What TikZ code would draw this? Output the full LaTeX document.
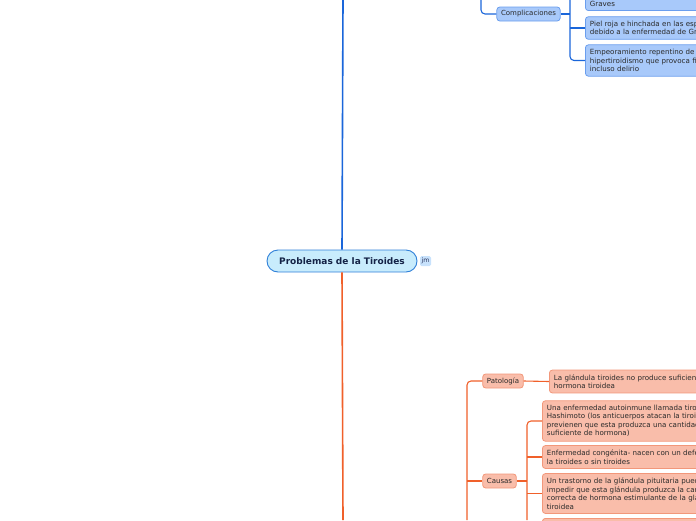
\documentclass[tikz,border=0pt]{standalone}
\usepackage{fontspec}
\setmainfont{DejaVu Sans}
\definecolor{bline}{HTML}{1A66DA}
\definecolor{oline}{HTML}{F0602A}
\definecolor{bfill}{HTML}{A8C9FA}
\definecolor{bdraw}{HTML}{6A9EEE}
\definecolor{ofill}{HTML}{F9BDAA}
\definecolor{odraw}{HTML}{F2977A}
\definecolor{cfill}{HTML}{C8ECFC}
\definecolor{cdraw}{HTML}{2F80D8}
\definecolor{txt}{HTML}{2A2A2A}
\begin{document}
\begin{tikzpicture}[x=1pt,y=-1pt,
  small/.style={font=\fontsize{7.1}{8.5}\selectfont, text=txt},
  tagfont/.style={font=\fontsize{7}{8}\selectfont, text=txt},
  bluebox/.style={small, fill=bfill, draw=bdraw, line width=0.8pt, rounded corners=3pt, align=left, text width=200pt, inner xsep=4.5pt, inner ysep=4.3pt, anchor=west},
  orangebox/.style={small, fill=ofill, draw=odraw, line width=0.8pt, rounded corners=3pt, align=left, text width=200pt, inner xsep=4.5pt, inner ysep=4.3pt, anchor=west},
  bluetag/.style={tagfont, fill=bfill, draw=bdraw, line width=0.8pt, rounded corners=3pt, inner xsep=4.2pt, inner ysep=0pt, minimum height=14pt},
  orangetag/.style={tagfont, fill=ofill, draw=odraw, line width=0.8pt, rounded corners=3pt, inner xsep=4.2pt, inner ysep=0pt, minimum height=14pt},
  bl/.style={draw=bline, line width=1.1pt},
  ol/.style={draw=oline, line width=1.1pt},
  trunkb/.style={draw=bline, line width=1.6pt},
  trunko/.style={draw=oline, line width=1.6pt}]
\useasboundingbox (0,0) rectangle (696,520);
\clip (0,0) rectangle (696,520);

% central topic
\node[draw=cdraw, fill=cfill, line width=0.9pt, rounded corners=11pt, minimum width=150pt, minimum height=22pt, font=\fontsize{9}{11}\selectfont\bfseries, text={rgb,255:red,20;green,35;blue,70}] (center) at (342,261) {Problemas de la Tiroides};
\node[fill={rgb,255:red,200;green,226;blue,252}, minimum width=11pt, minimum height=10pt, inner sep=0pt, rounded corners=1.5pt, font=\fontsize{6.2}{7}\selectfont, text={rgb,255:red,40;green,50;blue,90}] (jm) at (425.5,261) {jm};

\coordinate (topB) at (343,0);
\coordinate (botO) at (343,520);
\draw[trunkb] (center.north) -- (topB);
\draw[trunko] (center.south) -- (botO);

% ---------- blue branch ----------
\node[bluetag] (comp) at (528.5,14) {Complicaciones};
\coordinate (compIn) at (481,0);
\draw[bl, rounded corners=4pt] (compIn) |- (comp.west);
\coordinate (spB) at (570,0);

\node[bluebox] (b1) at (585,-1) {\strut\\Graves};
\node[bluebox] (b2) at (585,28) {Piel roja e hinchada en las espinillas\\debido a la enfermedad de Graves};
\node[bluebox] (b3) at (585,60.5) {Empeoramiento repentino de los síntomas del\\hipertiroidismo que provoca fiebre, agitación e\\incluso delirio};

\draw[bl, rounded corners=4pt] (spB) |- (b3.west);
\draw[bl] (comp.east) -- (comp.east -| spB);
\draw[bl] (b2.west -| spB) -- (b2.west);

% ---------- orange branch ----------
\node[orangetag] (pat) at (503,381) {Patología};
\node[orangetag] (cau) at (499.5,481) {Causas};
\coordinate (spO) at (467,520);
\draw[ol, rounded corners=4pt] (spO) |- (pat.west);
\draw[ol] (cau.west -| spO) -- (cau.west);

\node[orangebox] (p1) at (549,381.5) {La glándula tiroides no produce suficiente\\hormona tiroidea};
\draw[ol] (pat.east) -- (p1.west);

\node[orangebox] (c1) at (542,421) {Una enfermedad autoinmune llamada tiroiditis de\\Hashimoto (los anticuerpos atacan la tiroides y\\previenen que esta produzca una cantidad\\suficiente de hormona)};
\node[orangebox] (c2) at (542,457) {Enfermedad congénita- nacen con un defecto en\\la tiroides o sin tiroides};
\node[orangebox] (c3) at (542,493.5) {Un trastorno de la glándula pituitaria puede\\impedir que esta glándula produzca la cantidad\\correcta de hormona estimulante de la glándula\\tiroidea};
\node[orangebox, minimum height=20pt, anchor=north west] (c4) at (542,518) {};

\coordinate (spC) at (527,520);
\draw[ol, rounded corners=4pt] (spC) |- (c1.west);
\draw[ol, line width=1.6pt] (cau.east) -- (cau.east -| spC);
\draw[ol] (c2.west -| spC) -- (c2.west);
\draw[ol] (c3.west -| spC) -- (c3.west);
\end{tikzpicture}
\end{document}
